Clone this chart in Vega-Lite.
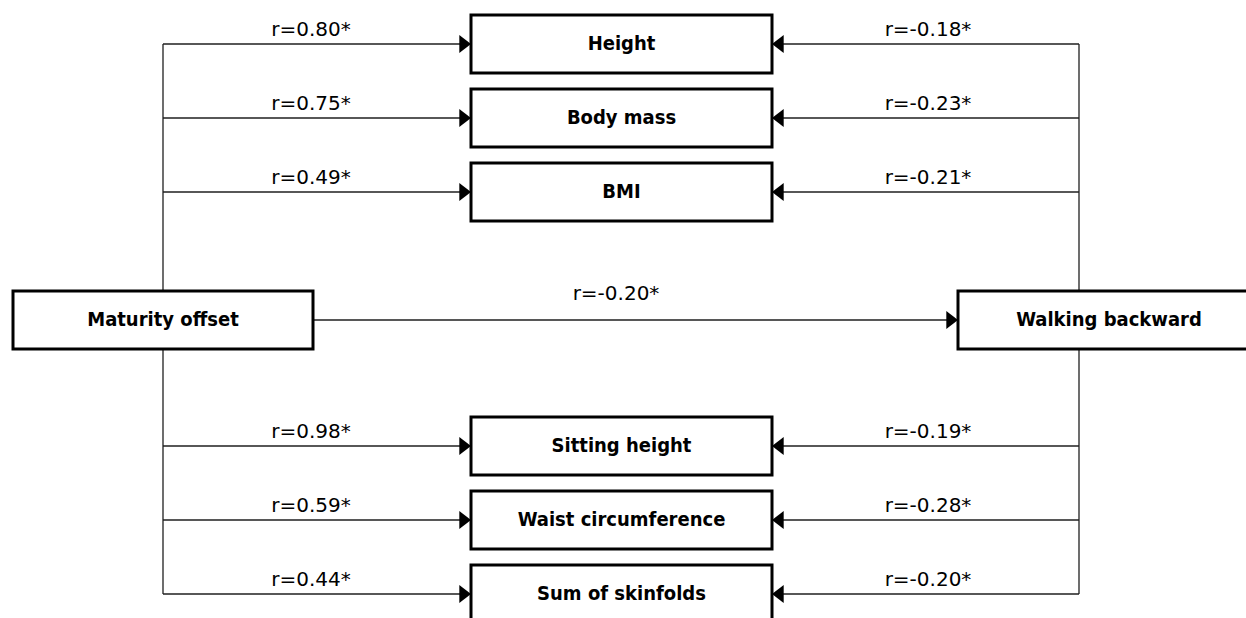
{
  "$schema": "https://vega.github.io/schema/vega-lite/v6.json",
  "width": 1246,
  "height": 618,
  "autosize": "none",
  "padding": 0,
  "background": "white",
  "config": {"view": {"stroke": null}},
  "datasets": {
    "verticals": [
      {"x": 163, "y1": 44, "y2": 594},
      {"x": 1079, "y1": 44, "y2": 594}
    ],
    "edges": [
      {"x1": 163, "x2": 471, "y": 44, "dir": "right", "label": "r=0.80*", "lx": 311, "ly": 36},
      {"x1": 163, "x2": 471, "y": 118, "dir": "right", "label": "r=0.75*", "lx": 311, "ly": 110},
      {"x1": 163, "x2": 471, "y": 192, "dir": "right", "label": "r=0.49*", "lx": 311, "ly": 184},
      {"x1": 163, "x2": 471, "y": 446, "dir": "right", "label": "r=0.98*", "lx": 311, "ly": 438},
      {"x1": 163, "x2": 471, "y": 520, "dir": "right", "label": "r=0.59*", "lx": 311, "ly": 512},
      {"x1": 163, "x2": 471, "y": 594, "dir": "right", "label": "r=0.44*", "lx": 311, "ly": 586},
      {"x1": 1079, "x2": 772, "y": 44, "dir": "left", "label": "r=-0.18*", "lx": 928, "ly": 36},
      {"x1": 1079, "x2": 772, "y": 118, "dir": "left", "label": "r=-0.23*", "lx": 928, "ly": 110},
      {"x1": 1079, "x2": 772, "y": 192, "dir": "left", "label": "r=-0.21*", "lx": 928, "ly": 184},
      {"x1": 1079, "x2": 772, "y": 446, "dir": "left", "label": "r=-0.19*", "lx": 928, "ly": 438},
      {"x1": 1079, "x2": 772, "y": 520, "dir": "left", "label": "r=-0.28*", "lx": 928, "ly": 512},
      {"x1": 1079, "x2": 772, "y": 594, "dir": "left", "label": "r=-0.20*", "lx": 928, "ly": 586},
      {"x1": 313, "x2": 958, "y": 320, "dir": "right", "label": "r=-0.20*", "lx": 616, "ly": 300}
    ],
    "nodes": [
      {"name": "Height", "x1": 471, "x2": 772, "y1": 15, "y2": 73},
      {"name": "Body mass", "x1": 471, "x2": 772, "y1": 89, "y2": 147},
      {"name": "BMI", "x1": 471, "x2": 772, "y1": 163, "y2": 221},
      {"name": "Sitting height", "x1": 471, "x2": 772, "y1": 417, "y2": 475},
      {"name": "Waist circumference", "x1": 471, "x2": 772, "y1": 491, "y2": 549},
      {"name": "Sum of skinfolds", "x1": 471, "x2": 772, "y1": 565, "y2": 623},
      {"name": "Maturity offset", "x1": 13, "x2": 313, "y1": 291, "y2": 349},
      {"name": "Walking backward", "x1": 958, "x2": 1260, "y1": 291, "y2": 349}
    ]
  },
  "layer": [
    {
      "data": {"name": "verticals"},
      "mark": {"type": "rule", "color": "#1f1f1f", "strokeWidth": 1.3},
      "encoding": {
        "x": {"field": "x", "type": "quantitative", "scale": {"domain": [0, 1246], "nice": false, "zero": false}, "axis": null},
        "y": {"field": "y1", "type": "quantitative", "scale": {"domain": [0, 618], "nice": false, "zero": false, "reverse": true}, "axis": null},
        "y2": {"field": "y2"}
      }
    },
    {
      "data": {"name": "edges"},
      "mark": {"type": "rule", "color": "#1f1f1f", "strokeWidth": 1.3},
      "encoding": {
        "x": {"field": "x1", "type": "quantitative", "scale": {"domain": [0, 1246], "nice": false, "zero": false}, "axis": null},
        "x2": {"field": "x2"},
        "y": {"field": "y", "type": "quantitative", "scale": {"domain": [0, 618], "nice": false, "zero": false, "reverse": true}, "axis": null}
      }
    },
    {
      "data": {"name": "edges"},
      "mark": {"type": "point", "filled": true, "color": "#000000", "opacity": 1, "size": 324, "strokeWidth": 0},
      "encoding": {
        "x": {"field": "x2", "type": "quantitative", "scale": {"domain": [0, 1246], "nice": false, "zero": false}, "axis": null},
        "y": {"field": "y", "type": "quantitative", "scale": {"domain": [0, 618], "nice": false, "zero": false, "reverse": true}, "axis": null},
        "shape": {"field": "dir", "type": "nominal", "scale": {"domain": ["right", "left"], "range": ["M-1.3,-1L0,0L-1.3,1Z", "M1.3,-1L0,0L1.3,1Z"]}, "legend": null}
      }
    },
    {
      "data": {"name": "nodes"},
      "mark": {"type": "rect", "fill": "white", "stroke": "#000000", "strokeWidth": 3},
      "encoding": {
        "x": {"field": "x1", "type": "quantitative", "scale": {"domain": [0, 1246], "nice": false, "zero": false}, "axis": null},
        "x2": {"field": "x2"},
        "y": {"field": "y1", "type": "quantitative", "scale": {"domain": [0, 618], "nice": false, "zero": false, "reverse": true}, "axis": null},
        "y2": {"field": "y2"}
      }
    },
    {
      "data": {"name": "nodes"},
      "transform": [{"calculate": "(datum.x1 + datum.x2) / 2", "as": "cx"}, {"calculate": "(datum.y1 + datum.y2) / 2", "as": "cy"}],
      "mark": {"type": "text", "font": "DejaVu Sans Condensed, sans-serif", "fontWeight": "bold", "fontSize": 20, "align": "center", "baseline": "middle", "color": "#000000"},
      "encoding": {
        "x": {"field": "cx", "type": "quantitative", "scale": {"domain": [0, 1246], "nice": false, "zero": false}, "axis": null},
        "y": {"field": "cy", "type": "quantitative", "scale": {"domain": [0, 618], "nice": false, "zero": false, "reverse": true}, "axis": null},
        "text": {"field": "name"}
      }
    },
    {
      "data": {"name": "edges"},
      "mark": {"type": "text", "font": "DejaVu Sans", "fontSize": 20, "align": "center", "baseline": "alphabetic", "color": "#000000"},
      "encoding": {
        "x": {"field": "lx", "type": "quantitative", "scale": {"domain": [0, 1246], "nice": false, "zero": false}, "axis": null},
        "y": {"field": "ly", "type": "quantitative", "scale": {"domain": [0, 618], "nice": false, "zero": false, "reverse": true}, "axis": null},
        "text": {"field": "label"}
      }
    }
  ]
}
